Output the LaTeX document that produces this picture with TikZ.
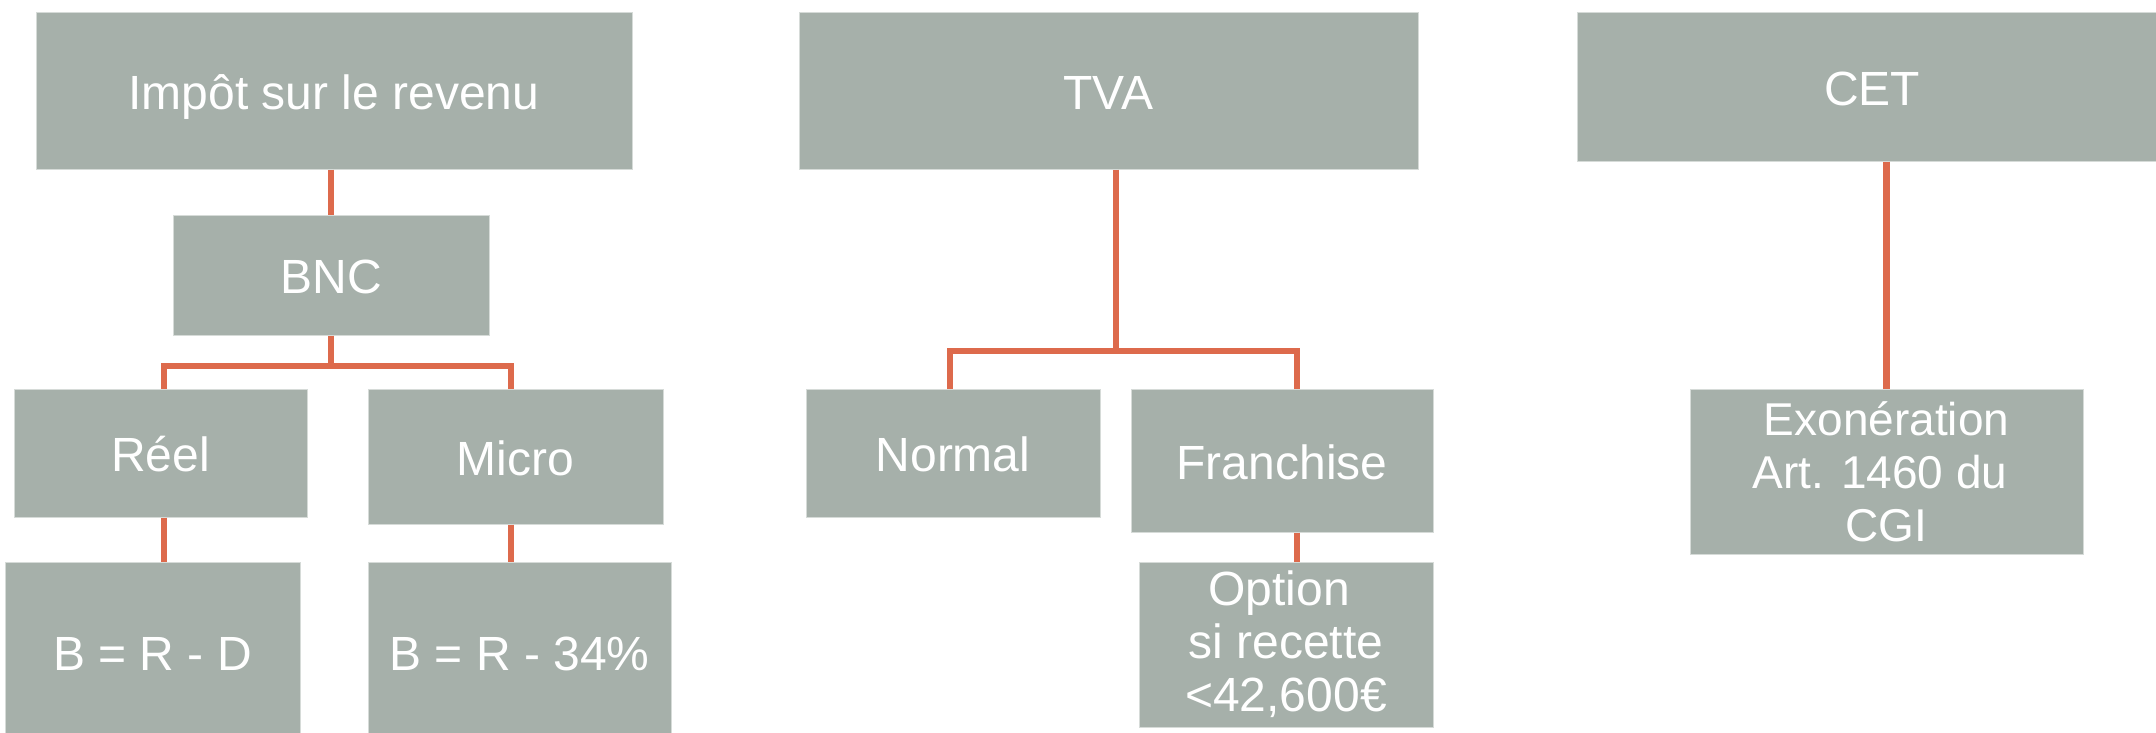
\documentclass[tikz,border=0pt]{standalone}
\usepackage{fontspec}
\setmainfont{Liberation Sans}
\definecolor{boxfill}{RGB}{166,176,170}
\definecolor{boxedge}{RGB}{214,219,216}
\definecolor{linkcol}{RGB}{221,106,76}
\begin{document}
\begin{tikzpicture}[x=1pt,y=-1pt,
  box/.style={fill=boxfill, draw=boxedge, line width=1pt, text=white,
    inner sep=0pt, align=center, anchor=center,
    font=\fontsize{48}{53}\selectfont},
  onebox/.style={box, text height=37pt, text depth=0pt},
  smallbox/.style={box, font=\fontsize{46}{53}\selectfont},
  link/.style={draw=linkcol, line width=6.8pt}]
\useasboundingbox (0,0) rectangle (2156,732);
% left tree
\node[onebox, minimum width=596, minimum height=157] (imp) at (334,90.5) {Impôt sur le revenu};
\node[onebox, minimum width=316, minimum height=120] (bnc) at (331,275) {BNC};
\node[onebox, minimum width=293, minimum height=128] (reel) at (160.5,453) {Réel};
\node[onebox, minimum width=295, minimum height=135] (micro) at (515.5,456.5) {Micro};
\node[onebox, minimum width=295, minimum height=180] (brd) at (152.5,652) {B = R - D};
\node[onebox, minimum width=303, minimum height=180] (brp) at (519.5,652) {B = R - 34\%};
% middle tree
\node[onebox, minimum width=619, minimum height=157] (tva) at (1108.5,90.5) {TVA};
\node[onebox, minimum width=294, minimum height=128] (normal) at (953,453) {Normal};
\node[onebox, minimum width=302, minimum height=143] (fran) at (1282,460.5) {Franchise};
\node[box, minimum width=294, minimum height=165] (opt) at (1286,644.5) {Option\kern0.28em\\si recette\\<42,600€};
% right tree
\node[onebox, minimum width=590, minimum height=149] (cet) at (1872,86.5) {CET};
\node[smallbox, minimum width=393, minimum height=165] (exo) at (1886.5,471.5) {Exonération\\Art. 1460 du\kern0.28em\\CGI};
% helper coordinates
\coordinate (xl) at (164,0);
\coordinate (xr) at (511,0);
\coordinate (j1) at (331,366);
\coordinate (xt) at (1116,0);
\coordinate (xn) at (950,0);
\coordinate (xf) at (1297,0);
\coordinate (j2) at (1116,351);
% connectors
\draw[link] (imp.south -| bnc) -- (bnc.north);
\draw[link] (bnc.south) -- (j1);
\draw[link] (reel.north -| xl) |- (j1) -| (micro.north -| xr);
\draw[link] (reel.south -| xl) -- (brd.north -| xl);
\draw[link] (micro.south -| xr) -- (brp.north -| xr);
\draw[link] (tva.south -| xt) -- (j2);
\draw[link] (normal.north -| xn) |- (j2) -| (fran.north -| xf);
\draw[link] (fran.south -| xf) -- (opt.north -| xf);
\draw[link] (cet.south -| exo) -- (exo.north);
\end{tikzpicture}
\end{document}
